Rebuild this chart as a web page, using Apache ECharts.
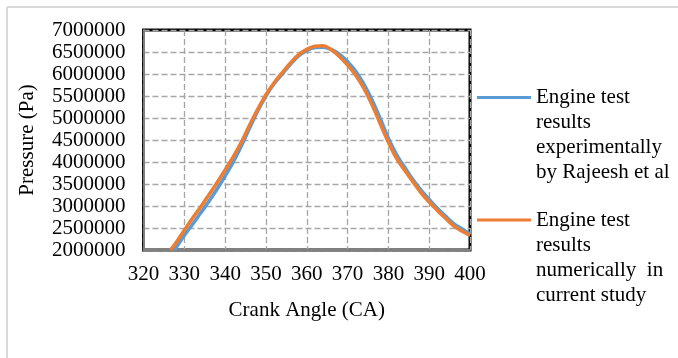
<!DOCTYPE html>
<html>
<head>
<meta charset="utf-8">
<script src="https://cdn.jsdelivr.net/npm/echarts@6/dist/echarts.min.js"></script>
<style>
html,body{margin:0;padding:0;background:#fff;}
#chart{width:678px;height:358px;}
</style>
</head>
<body>
<div id="chart"></div>
<script>
// Crank angle (deg) and pressure (Pa)
const expAngles = [327.6, 330, 332, 334, 336, 338, 340, 342, 344, 346, 348, 350, 352, 354, 356, 358, 360, 362, 364, 366, 368, 370, 372, 374, 376, 378, 380, 382, 384, 386, 388, 390, 392, 394, 396, 398, 400];
const expPressure = [2000000, 2330000, 2580000, 2840000, 3100000, 3380000, 3680000, 4000000, 4370000, 4770000, 5160000, 5500000, 5780000, 6000000, 6220000, 6410000, 6530000, 6600000, 6610000, 6560000, 6450000, 6280000, 6060000, 5770000, 5410000, 4990000, 4540000, 4170000, 3880000, 3600000, 3360000, 3150000, 2950000, 2770000, 2600000, 2480000, 2370000];
const numAngles = [326.6, 328, 330, 332, 334, 336, 338, 340, 342, 344, 346, 348, 350, 352, 354, 356, 358, 360, 362, 364, 366, 368, 370, 372, 374, 376, 378, 380, 382, 384, 386, 388, 390, 392, 394, 396, 398, 400];
const numPressure = [2000000, 2170000, 2450000, 2720000, 2980000, 3250000, 3530000, 3820000, 4120000, 4460000, 4840000, 5200000, 5530000, 5800000, 6030000, 6250000, 6440000, 6560000, 6630000, 6640000, 6550000, 6400000, 6200000, 5970000, 5670000, 5300000, 4870000, 4450000, 4080000, 3810000, 3550000, 3300000, 3090000, 2900000, 2720000, 2550000, 2430000, 2330000];
const seriesNames = [
  "Engine test\nresults\nexperimentally\nby Rajeesh et al",
  "Engine test\nresults\nnumerically  in\ncurrent study"
];
const xTitle = "Crank Angle (CA)";
const yTitle = "Pressure (Pa)";

const zip = (a, b) => a.map((v, i) => [v, b[i]]);
const font = "'Liberation Serif', 'Times New Roman', serif";

const chart = echarts.init(document.getElementById('chart'), null, {renderer: 'canvas'});
const legendText = {fontFamily: font, fontSize: 21, color: '#000', lineHeight: 25};
const legendFormatter = name => '\n\n\n' + name;
chart.setOption({
  backgroundColor: '#fff',
  animation: false,
  grid: {
    left: 143.5, right: 208, top: 30, bottom: 108,
    show: true, borderColor: '#000', borderWidth: 3, backgroundColor: 'transparent'
  },
  xAxis: {
    type: 'value', min: 320, max: 400, interval: 10,
    name: xTitle, nameLocation: 'middle', nameGap: 50,
    nameTextStyle: {fontFamily: font, fontSize: 21, color: '#000'},
    axisLine: {show: true, lineStyle: {color: '#808080', width: 2}},
    axisTick: {show: false},
    axisLabel: {fontFamily: font, fontSize: 21, color: '#000', margin: 14},
    splitLine: {show: true, lineStyle: {color: '#a6a6a6', width: 1.3, type: [6, 3]}}
  },
  yAxis: {
    type: 'value', min: 2000000, max: 7000000, interval: 500000,
    name: yTitle, nameLocation: 'middle', nameGap: 106,
    nameTextStyle: {fontFamily: font, fontSize: 21, color: '#000'},
    axisLine: {show: true, lineStyle: {color: '#808080', width: 2}},
    axisTick: {show: false},
    axisLabel: {fontFamily: font, fontSize: 21, color: '#000', margin: 18, formatter: v => String(v)},
    splitLine: {show: true, lineStyle: {color: '#a6a6a6', width: 1.3, type: [6, 3]}}
  },
  legend: [
    {
      data: [seriesNames[0]], orient: 'vertical', left: 477, top: 10,
      itemWidth: 54, itemHeight: 3, itemGap: 0, padding: 0,
      icon: 'rect', textStyle: legendText, formatter: legendFormatter
    },
    {
      data: [seriesNames[1]], orient: 'vertical', left: 477, top: 132.5,
      itemWidth: 54, itemHeight: 3, itemGap: 0, padding: 0,
      icon: 'rect', textStyle: legendText, formatter: legendFormatter
    }
  ],
  graphic: [
    {type: 'line', shape: {x1: 7, y1: 7, x2: 678, y2: 7}, style: {stroke: '#d9d9d9', lineWidth: 2}, silent: true},
    {type: 'line', shape: {x1: 7, y1: 7, x2: 7, y2: 358}, style: {stroke: '#d9d9d9', lineWidth: 2}, silent: true}
  ],
  series: [
    {
      name: seriesNames[0], type: 'line', data: zip(expAngles, expPressure),
      smooth: 0.4, showSymbol: false, symbol: 'none', clip: true,
      lineStyle: {color: '#5B9BD5', width: 3.5}, itemStyle: {color: '#5B9BD5'}, z: 3
    },
    {
      name: seriesNames[1], type: 'line', data: zip(numAngles, numPressure),
      smooth: 0.4, showSymbol: false, symbol: 'none', clip: true,
      lineStyle: {color: '#ED7D31', width: 3.5}, itemStyle: {color: '#ED7D31'}, z: 4
    }
  ]
});
</script>
</body>
</html>
